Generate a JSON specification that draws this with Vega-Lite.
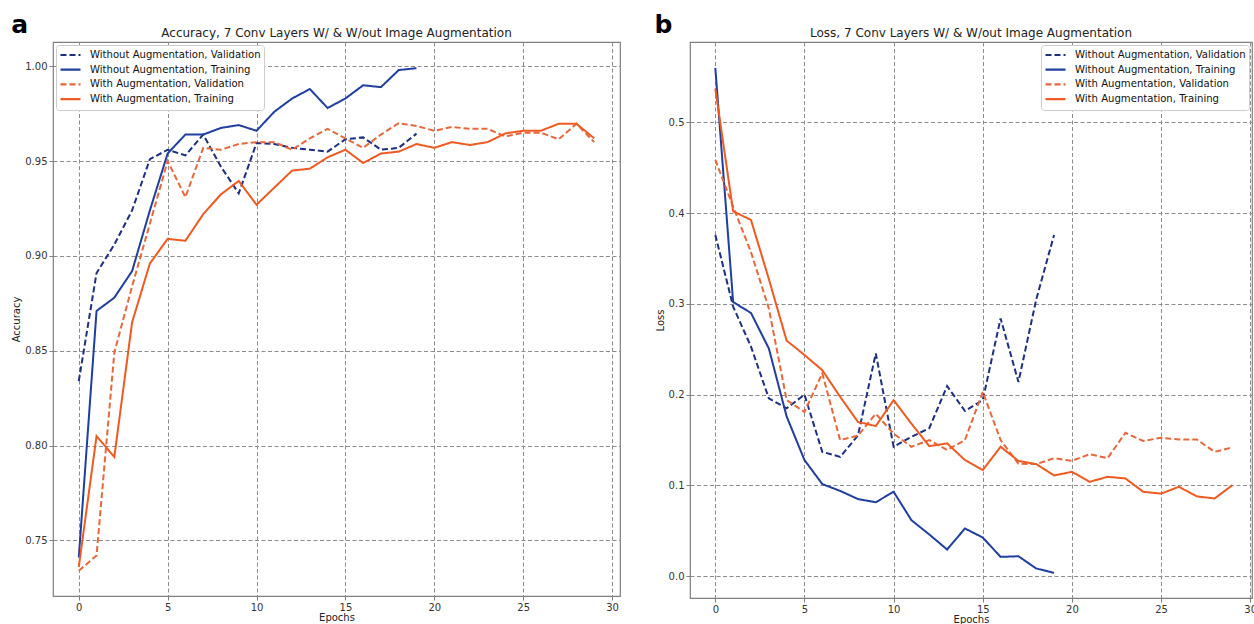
{
  "$schema": "https://vega.github.io/schema/vega-lite/v6.json",
  "padding": {"left": 11, "top": 12, "right": 0, "bottom": 0},
  "config": {
    "font": "DejaVu Sans",
    "view": {"stroke": "#7f7f7f", "strokeWidth": 1.2},
    "axis": {"grid": true, "gridColor": "#8c8c8c", "gridDash": [4, 2.5], "gridWidth": 1, "gridOpacity": 1, "domain": false, "tickColor": "#7f7f7f", "tickSize": 4, "labelColor": "#333333", "labelFontSize": 10, "labelPadding": 2, "titleFontSize": 10, "titleFontWeight": "normal", "titleColor": "#222222", "titlePadding": 3},
    "axisX": {"titlePadding": 0},
    "legend": {"symbolType": "stroke", "symbolStrokeWidth": 2.2, "symbolSize": 400, "clipHeight": 14, "labelFontSize": 10.1, "labelColor": "#111111", "labelLimit": 400, "labelOffset": 8, "fillColor": "white", "strokeColor": "#cccccc", "padding": 3, "rowPadding": 0.7, "offset": 3, "cornerRadius": 3},
    "title": {"fontSize": 12, "fontWeight": "normal", "color": "#222222", "offset": 1.7}
  },
  "datasets": {
    "acc": [
      {"series": "Without Augmentation, Validation", "epoch": 0, "value": 0.834},
      {"series": "Without Augmentation, Validation", "epoch": 1, "value": 0.891},
      {"series": "Without Augmentation, Validation", "epoch": 2, "value": 0.906},
      {"series": "Without Augmentation, Validation", "epoch": 3, "value": 0.924},
      {"series": "Without Augmentation, Validation", "epoch": 4, "value": 0.951},
      {"series": "Without Augmentation, Validation", "epoch": 5, "value": 0.956},
      {"series": "Without Augmentation, Validation", "epoch": 6, "value": 0.953},
      {"series": "Without Augmentation, Validation", "epoch": 7, "value": 0.964},
      {"series": "Without Augmentation, Validation", "epoch": 8, "value": 0.947},
      {"series": "Without Augmentation, Validation", "epoch": 9, "value": 0.933},
      {"series": "Without Augmentation, Validation", "epoch": 10, "value": 0.9595},
      {"series": "Without Augmentation, Validation", "epoch": 11, "value": 0.959},
      {"series": "Without Augmentation, Validation", "epoch": 12, "value": 0.957},
      {"series": "Without Augmentation, Validation", "epoch": 13, "value": 0.956},
      {"series": "Without Augmentation, Validation", "epoch": 14, "value": 0.955},
      {"series": "Without Augmentation, Validation", "epoch": 15, "value": 0.9615},
      {"series": "Without Augmentation, Validation", "epoch": 16, "value": 0.9625},
      {"series": "Without Augmentation, Validation", "epoch": 17, "value": 0.956},
      {"series": "Without Augmentation, Validation", "epoch": 18, "value": 0.957},
      {"series": "Without Augmentation, Validation", "epoch": 19, "value": 0.9645},
      {"series": "Without Augmentation, Training", "epoch": 0, "value": 0.741},
      {"series": "Without Augmentation, Training", "epoch": 1, "value": 0.871},
      {"series": "Without Augmentation, Training", "epoch": 2, "value": 0.878},
      {"series": "Without Augmentation, Training", "epoch": 3, "value": 0.892},
      {"series": "Without Augmentation, Training", "epoch": 4, "value": 0.924},
      {"series": "Without Augmentation, Training", "epoch": 5, "value": 0.954},
      {"series": "Without Augmentation, Training", "epoch": 6, "value": 0.964},
      {"series": "Without Augmentation, Training", "epoch": 7, "value": 0.964},
      {"series": "Without Augmentation, Training", "epoch": 8, "value": 0.9675},
      {"series": "Without Augmentation, Training", "epoch": 9, "value": 0.969},
      {"series": "Without Augmentation, Training", "epoch": 10, "value": 0.966},
      {"series": "Without Augmentation, Training", "epoch": 11, "value": 0.976},
      {"series": "Without Augmentation, Training", "epoch": 12, "value": 0.983},
      {"series": "Without Augmentation, Training", "epoch": 13, "value": 0.988},
      {"series": "Without Augmentation, Training", "epoch": 14, "value": 0.978},
      {"series": "Without Augmentation, Training", "epoch": 15, "value": 0.983},
      {"series": "Without Augmentation, Training", "epoch": 16, "value": 0.990},
      {"series": "Without Augmentation, Training", "epoch": 17, "value": 0.989},
      {"series": "Without Augmentation, Training", "epoch": 18, "value": 0.998},
      {"series": "Without Augmentation, Training", "epoch": 19, "value": 0.999},
      {"series": "With Augmentation, Validation", "epoch": 0, "value": 0.734},
      {"series": "With Augmentation, Validation", "epoch": 1, "value": 0.742},
      {"series": "With Augmentation, Validation", "epoch": 2, "value": 0.849},
      {"series": "With Augmentation, Validation", "epoch": 3, "value": 0.884},
      {"series": "With Augmentation, Validation", "epoch": 4, "value": 0.917},
      {"series": "With Augmentation, Validation", "epoch": 5, "value": 0.950},
      {"series": "With Augmentation, Validation", "epoch": 6, "value": 0.931},
      {"series": "With Augmentation, Validation", "epoch": 7, "value": 0.957},
      {"series": "With Augmentation, Validation", "epoch": 8, "value": 0.956},
      {"series": "With Augmentation, Validation", "epoch": 9, "value": 0.959},
      {"series": "With Augmentation, Validation", "epoch": 10, "value": 0.960},
      {"series": "With Augmentation, Validation", "epoch": 11, "value": 0.960},
      {"series": "With Augmentation, Validation", "epoch": 12, "value": 0.956},
      {"series": "With Augmentation, Validation", "epoch": 13, "value": 0.962},
      {"series": "With Augmentation, Validation", "epoch": 14, "value": 0.967},
      {"series": "With Augmentation, Validation", "epoch": 15, "value": 0.962},
      {"series": "With Augmentation, Validation", "epoch": 16, "value": 0.957},
      {"series": "With Augmentation, Validation", "epoch": 17, "value": 0.964},
      {"series": "With Augmentation, Validation", "epoch": 18, "value": 0.970},
      {"series": "With Augmentation, Validation", "epoch": 19, "value": 0.9685},
      {"series": "With Augmentation, Validation", "epoch": 20, "value": 0.966},
      {"series": "With Augmentation, Validation", "epoch": 21, "value": 0.968},
      {"series": "With Augmentation, Validation", "epoch": 22, "value": 0.967},
      {"series": "With Augmentation, Validation", "epoch": 23, "value": 0.967},
      {"series": "With Augmentation, Validation", "epoch": 24, "value": 0.963},
      {"series": "With Augmentation, Validation", "epoch": 25, "value": 0.965},
      {"series": "With Augmentation, Validation", "epoch": 26, "value": 0.965},
      {"series": "With Augmentation, Validation", "epoch": 27, "value": 0.9615},
      {"series": "With Augmentation, Validation", "epoch": 28, "value": 0.9697},
      {"series": "With Augmentation, Validation", "epoch": 29, "value": 0.960},
      {"series": "With Augmentation, Training", "epoch": 0, "value": 0.736},
      {"series": "With Augmentation, Training", "epoch": 1, "value": 0.805},
      {"series": "With Augmentation, Training", "epoch": 2, "value": 0.794},
      {"series": "With Augmentation, Training", "epoch": 3, "value": 0.865},
      {"series": "With Augmentation, Training", "epoch": 4, "value": 0.896},
      {"series": "With Augmentation, Training", "epoch": 5, "value": 0.909},
      {"series": "With Augmentation, Training", "epoch": 6, "value": 0.908},
      {"series": "With Augmentation, Training", "epoch": 7, "value": 0.922},
      {"series": "With Augmentation, Training", "epoch": 8, "value": 0.9325},
      {"series": "With Augmentation, Training", "epoch": 9, "value": 0.9395},
      {"series": "With Augmentation, Training", "epoch": 10, "value": 0.927},
      {"series": "With Augmentation, Training", "epoch": 11, "value": 0.936},
      {"series": "With Augmentation, Training", "epoch": 12, "value": 0.945},
      {"series": "With Augmentation, Training", "epoch": 13, "value": 0.946},
      {"series": "With Augmentation, Training", "epoch": 14, "value": 0.952},
      {"series": "With Augmentation, Training", "epoch": 15, "value": 0.956},
      {"series": "With Augmentation, Training", "epoch": 16, "value": 0.949},
      {"series": "With Augmentation, Training", "epoch": 17, "value": 0.954},
      {"series": "With Augmentation, Training", "epoch": 18, "value": 0.955},
      {"series": "With Augmentation, Training", "epoch": 19, "value": 0.959},
      {"series": "With Augmentation, Training", "epoch": 20, "value": 0.957},
      {"series": "With Augmentation, Training", "epoch": 21, "value": 0.960},
      {"series": "With Augmentation, Training", "epoch": 22, "value": 0.9585},
      {"series": "With Augmentation, Training", "epoch": 23, "value": 0.960},
      {"series": "With Augmentation, Training", "epoch": 24, "value": 0.9646},
      {"series": "With Augmentation, Training", "epoch": 25, "value": 0.966},
      {"series": "With Augmentation, Training", "epoch": 26, "value": 0.966},
      {"series": "With Augmentation, Training", "epoch": 27, "value": 0.9697},
      {"series": "With Augmentation, Training", "epoch": 28, "value": 0.9697},
      {"series": "With Augmentation, Training", "epoch": 29, "value": 0.962}
    ],
    "loss": [
      {"series": "Without Augmentation, Validation", "epoch": 0, "value": 0.376},
      {"series": "Without Augmentation, Validation", "epoch": 1, "value": 0.297},
      {"series": "Without Augmentation, Validation", "epoch": 2, "value": 0.253},
      {"series": "Without Augmentation, Validation", "epoch": 3, "value": 0.196},
      {"series": "Without Augmentation, Validation", "epoch": 4, "value": 0.185},
      {"series": "Without Augmentation, Validation", "epoch": 5, "value": 0.200},
      {"series": "Without Augmentation, Validation", "epoch": 6, "value": 0.137},
      {"series": "Without Augmentation, Validation", "epoch": 7, "value": 0.1315},
      {"series": "Without Augmentation, Validation", "epoch": 8, "value": 0.155},
      {"series": "Without Augmentation, Validation", "epoch": 9, "value": 0.2455},
      {"series": "Without Augmentation, Validation", "epoch": 10, "value": 0.1426},
      {"series": "Without Augmentation, Validation", "epoch": 11, "value": 0.1536},
      {"series": "Without Augmentation, Validation", "epoch": 12, "value": 0.163},
      {"series": "Without Augmentation, Validation", "epoch": 13, "value": 0.2095},
      {"series": "Without Augmentation, Validation", "epoch": 14, "value": 0.182},
      {"series": "Without Augmentation, Validation", "epoch": 15, "value": 0.194},
      {"series": "Without Augmentation, Validation", "epoch": 16, "value": 0.284},
      {"series": "Without Augmentation, Validation", "epoch": 17, "value": 0.214},
      {"series": "Without Augmentation, Validation", "epoch": 18, "value": 0.305},
      {"series": "Without Augmentation, Validation", "epoch": 19, "value": 0.376},
      {"series": "Without Augmentation, Training", "epoch": 0, "value": 0.560},
      {"series": "Without Augmentation, Training", "epoch": 1, "value": 0.302},
      {"series": "Without Augmentation, Training", "epoch": 2, "value": 0.290},
      {"series": "Without Augmentation, Training", "epoch": 3, "value": 0.251},
      {"series": "Without Augmentation, Training", "epoch": 4, "value": 0.176},
      {"series": "Without Augmentation, Training", "epoch": 5, "value": 0.128},
      {"series": "Without Augmentation, Training", "epoch": 6, "value": 0.1015},
      {"series": "Without Augmentation, Training", "epoch": 7, "value": 0.094},
      {"series": "Without Augmentation, Training", "epoch": 8, "value": 0.085},
      {"series": "Without Augmentation, Training", "epoch": 9, "value": 0.0815},
      {"series": "Without Augmentation, Training", "epoch": 10, "value": 0.093},
      {"series": "Without Augmentation, Training", "epoch": 11, "value": 0.0617},
      {"series": "Without Augmentation, Training", "epoch": 12, "value": 0.046},
      {"series": "Without Augmentation, Training", "epoch": 13, "value": 0.0294},
      {"series": "Without Augmentation, Training", "epoch": 14, "value": 0.0526},
      {"series": "Without Augmentation, Training", "epoch": 15, "value": 0.0426},
      {"series": "Without Augmentation, Training", "epoch": 16, "value": 0.0213},
      {"series": "Without Augmentation, Training", "epoch": 17, "value": 0.022},
      {"series": "Without Augmentation, Training", "epoch": 18, "value": 0.0085},
      {"series": "Without Augmentation, Training", "epoch": 19, "value": 0.0037},
      {"series": "With Augmentation, Validation", "epoch": 0, "value": 0.4587},
      {"series": "With Augmentation, Validation", "epoch": 1, "value": 0.407},
      {"series": "With Augmentation, Validation", "epoch": 2, "value": 0.357},
      {"series": "With Augmentation, Validation", "epoch": 3, "value": 0.295},
      {"series": "With Augmentation, Validation", "epoch": 4, "value": 0.194},
      {"series": "With Augmentation, Validation", "epoch": 5, "value": 0.181},
      {"series": "With Augmentation, Validation", "epoch": 6, "value": 0.2235},
      {"series": "With Augmentation, Validation", "epoch": 7, "value": 0.150},
      {"series": "With Augmentation, Validation", "epoch": 8, "value": 0.155},
      {"series": "With Augmentation, Validation", "epoch": 9, "value": 0.179},
      {"series": "With Augmentation, Validation", "epoch": 10, "value": 0.157},
      {"series": "With Augmentation, Validation", "epoch": 11, "value": 0.1426},
      {"series": "With Augmentation, Validation", "epoch": 12, "value": 0.150},
      {"series": "With Augmentation, Validation", "epoch": 13, "value": 0.139},
      {"series": "With Augmentation, Validation", "epoch": 14, "value": 0.150},
      {"series": "With Augmentation, Validation", "epoch": 15, "value": 0.203},
      {"series": "With Augmentation, Validation", "epoch": 16, "value": 0.150},
      {"series": "With Augmentation, Validation", "epoch": 17, "value": 0.124},
      {"series": "With Augmentation, Validation", "epoch": 18, "value": 0.1235},
      {"series": "With Augmentation, Validation", "epoch": 19, "value": 0.130},
      {"series": "With Augmentation, Validation", "epoch": 20, "value": 0.127},
      {"series": "With Augmentation, Validation", "epoch": 21, "value": 0.1345},
      {"series": "With Augmentation, Validation", "epoch": 22, "value": 0.130},
      {"series": "With Augmentation, Validation", "epoch": 23, "value": 0.158},
      {"series": "With Augmentation, Validation", "epoch": 24, "value": 0.149},
      {"series": "With Augmentation, Validation", "epoch": 25, "value": 0.1525},
      {"series": "With Augmentation, Validation", "epoch": 26, "value": 0.1507},
      {"series": "With Augmentation, Validation", "epoch": 27, "value": 0.1507},
      {"series": "With Augmentation, Validation", "epoch": 28, "value": 0.137},
      {"series": "With Augmentation, Validation", "epoch": 29, "value": 0.142},
      {"series": "With Augmentation, Training", "epoch": 0, "value": 0.537},
      {"series": "With Augmentation, Training", "epoch": 1, "value": 0.402},
      {"series": "With Augmentation, Training", "epoch": 2, "value": 0.3925},
      {"series": "With Augmentation, Training", "epoch": 3, "value": 0.3275},
      {"series": "With Augmentation, Training", "epoch": 4, "value": 0.2595},
      {"series": "With Augmentation, Training", "epoch": 5, "value": 0.2437},
      {"series": "With Augmentation, Training", "epoch": 6, "value": 0.227},
      {"series": "With Augmentation, Training", "epoch": 7, "value": 0.1977},
      {"series": "With Augmentation, Training", "epoch": 8, "value": 0.170},
      {"series": "With Augmentation, Training", "epoch": 9, "value": 0.1654},
      {"series": "With Augmentation, Training", "epoch": 10, "value": 0.194},
      {"series": "With Augmentation, Training", "epoch": 11, "value": 0.168},
      {"series": "With Augmentation, Training", "epoch": 12, "value": 0.1433},
      {"series": "With Augmentation, Training", "epoch": 13, "value": 0.1463},
      {"series": "With Augmentation, Training", "epoch": 14, "value": 0.128},
      {"series": "With Augmentation, Training", "epoch": 15, "value": 0.117},
      {"series": "With Augmentation, Training", "epoch": 16, "value": 0.1426},
      {"series": "With Augmentation, Training", "epoch": 17, "value": 0.127},
      {"series": "With Augmentation, Training", "epoch": 18, "value": 0.1235},
      {"series": "With Augmentation, Training", "epoch": 19, "value": 0.111},
      {"series": "With Augmentation, Training", "epoch": 20, "value": 0.115},
      {"series": "With Augmentation, Training", "epoch": 21, "value": 0.104},
      {"series": "With Augmentation, Training", "epoch": 22, "value": 0.1095},
      {"series": "With Augmentation, Training", "epoch": 23, "value": 0.1077},
      {"series": "With Augmentation, Training", "epoch": 24, "value": 0.093},
      {"series": "With Augmentation, Training", "epoch": 25, "value": 0.091},
      {"series": "With Augmentation, Training", "epoch": 26, "value": 0.0985},
      {"series": "With Augmentation, Training", "epoch": 27, "value": 0.088},
      {"series": "With Augmentation, Training", "epoch": 28, "value": 0.0856},
      {"series": "With Augmentation, Training", "epoch": 29, "value": 0.1003}
    ]
  },
  "spacing": 33,
  "hconcat": [
    {
      "title": {"text": "a", "anchor": "start", "fontSize": 25, "fontWeight": "bold", "color": "#000000", "offset": -11},
      "resolve": {"scale": {"color": "independent", "strokeDash": "independent"}, "legend": {"color": "independent", "strokeDash": "independent"}},
      "vconcat": [
        {
          "title": {"text": "Accuracy, 7 Conv Layers W/ & W/out Image Augmentation"},
          "width": 567,
          "height": 554,
          "data": {"name": "acc"},
          "mark": {"type": "line", "strokeWidth": 2, "clip": true},
          "encoding": {
            "x": {"field": "epoch", "type": "quantitative", "scale": {"domain": [-1.45, 30.45], "nice": false, "zero": false}, "axis": {"values": [0, 5, 10, 15, 20, 25, 30], "title": "Epochs"}},
            "y": {"field": "value", "type": "quantitative", "scale": {"domain": [0.7207, 1.0128], "nice": false, "zero": false}, "axis": {"values": [0.75, 0.8, 0.85, 0.9, 0.95, 1.0], "format": ".2f", "title": "Accuracy"}},
            "color": {"field": "series", "type": "nominal", "title": null, "scale": {"domain": ["Without Augmentation, Validation", "Without Augmentation, Training", "With Augmentation, Validation", "With Augmentation, Training"], "range": ["#1d2f80", "#1f3f9f", "#e8673a", "#ee5a20"]}, "legend": {"orient": "top-left"}},
            "strokeDash": {"field": "series", "type": "nominal", "title": null, "scale": {"domain": ["Without Augmentation, Validation", "Without Augmentation, Training", "With Augmentation, Validation", "With Augmentation, Training"], "range": [[6, 3], [1, 0], [6, 3], [1, 0]]}, "legend": {"orient": "top-left"}}
          }
        }
      ]
    },
    {
      "title": {"text": "b", "anchor": "start", "fontSize": 25, "fontWeight": "bold", "color": "#000000", "offset": -11},
      "resolve": {"scale": {"color": "independent", "strokeDash": "independent"}, "legend": {"color": "independent", "strokeDash": "independent"}},
      "vconcat": [
        {
          "title": {"text": "Loss, 7 Conv Layers W/ & W/out Image Augmentation"},
          "width": 562,
          "height": 556,
          "data": {"name": "loss"},
          "mark": {"type": "line", "strokeWidth": 2, "clip": true},
          "encoding": {
            "x": {"field": "epoch", "type": "quantitative", "scale": {"domain": [-1.42, 30.1], "nice": false, "zero": false}, "axis": {"values": [0, 5, 10, 15, 20, 25, 30], "title": "Epochs"}},
            "y": {"field": "value", "type": "quantitative", "scale": {"domain": [-0.024, 0.5885], "nice": false, "zero": false}, "axis": {"values": [0, 0.1, 0.2, 0.3, 0.4, 0.5], "format": ".1f", "title": "Loss"}},
            "color": {"field": "series", "type": "nominal", "title": null, "scale": {"domain": ["Without Augmentation, Validation", "Without Augmentation, Training", "With Augmentation, Validation", "With Augmentation, Training"], "range": ["#1d2f80", "#1f3f9f", "#e8673a", "#ee5a20"]}, "legend": {"orient": "top-right"}},
            "strokeDash": {"field": "series", "type": "nominal", "title": null, "scale": {"domain": ["Without Augmentation, Validation", "Without Augmentation, Training", "With Augmentation, Validation", "With Augmentation, Training"], "range": [[6, 3], [1, 0], [6, 3], [1, 0]]}, "legend": {"orient": "top-right"}}
          }
        }
      ]
    }
  ],
  "resolve": {"scale": {"color": "independent", "strokeDash": "independent"}, "legend": {"color": "independent", "strokeDash": "independent"}}
}
